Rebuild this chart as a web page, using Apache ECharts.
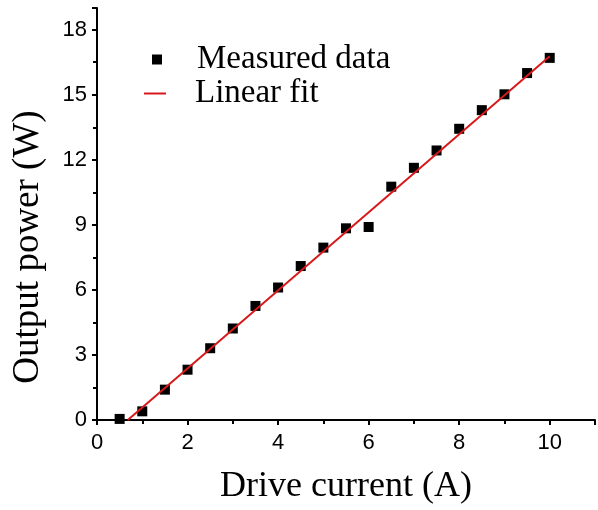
<!DOCTYPE html>
<html>
<head>
<meta charset="utf-8">
<script src="https://cdn.jsdelivr.net/npm/echarts@6/dist/echarts.min.js"></script>
<style>
  html, body { margin: 0; padding: 0; background: #fff; }
  #chart { width: 598px; height: 510px; }
</style>
</head>
<body>
<div id="chart"></div>
<script>
// Drive current (A) and measured output power (W)
const driveCurrent = [0.5, 1.0, 1.5, 2.0, 2.5, 3.0, 3.5, 4.0, 4.5, 5.0, 5.5, 6.0, 6.5, 7.0, 7.5, 8.0, 8.5, 9.0, 9.5, 10.0];
const outputPower  = [0.05, 0.40, 1.40, 2.32, 3.31, 4.22, 5.26, 6.11, 7.10, 7.95, 8.84, 8.90, 10.76, 11.63, 12.43, 13.43, 14.29, 15.02, 16.00, 16.70];

// Linear fit endpoints (clipped at zero power)
const fitCurrent = [0.68, 10.0];
const fitPower   = [0.0, 16.78];

const xTicks = [0, 2, 4, 6, 8, 10];
const yTicks = [0, 3, 6, 9, 12, 15, 18];

const serif = '"Liberation Serif", "Times New Roman", serif';
const sans = '"Liberation Sans", Arial, sans-serif';

const chart = echarts.init(document.getElementById('chart'), null, { renderer: 'canvas' });

const axisCommon = {
  axisLine: { show: true, onZero: false, lineStyle: { color: '#000', width: 2 } },
  axisTick: { show: true, inside: false, length: 5, lineStyle: { color: '#000', width: 2 } },
  minorTick: { show: true, splitNumber: 2, length: 4, lineStyle: { color: '#000', width: 2 } },
  splitLine: { show: false },
  minorSplitLine: { show: false }
};

chart.setOption({
  animation: false,
  backgroundColor: '#fff',
  grid: { left: 97, right: -7, top: 8, bottom: 89, containLabel: false },
  xAxis: Object.assign({
    type: 'value',
    min: 0,
    max: 11,
    interval: 2,
    name: 'Drive current (A)',
    nameLocation: 'middle',
    nameGap: 49,
    nameTextStyle: { fontFamily: serif, fontSize: 36, color: '#000' },
    axisLabel: {
      fontFamily: sans, fontSize: 22, color: '#000', margin: 12,
      formatter: v => (xTicks.includes(v) ? String(v) : '')
    }
  }, axisCommon),
  yAxis: Object.assign({
    type: 'value',
    min: 0,
    max: 19,
    interval: 3,
    name: 'Output power (W)',
    nameLocation: 'middle',
    nameGap: 50,
    nameRotate: 90,
    nameTextStyle: { fontFamily: serif, fontSize: 37, color: '#000', padding: [0, 66, 0, 0] },
    axisLabel: {
      fontFamily: sans, fontSize: 22, color: '#000', margin: 10,
      formatter: v => (yTicks.includes(v) ? String(v) : '')
    }
  }, axisCommon),
  legend: [
    {
      data: ['Measured data'],
      left: 152, top: 43,
      padding: 0,
      orient: 'vertical',
      itemWidth: 10, itemHeight: 10,
      textStyle: { fontFamily: serif, fontSize: 33, color: '#000', padding: [0, 0, 0, 30] },
      selectedMode: false
    },
    {
      data: [{ name: 'Linear fit', icon: 'rect' }],
      left: 144, top: 77,
      padding: 0,
      orient: 'vertical',
      itemWidth: 22, itemHeight: 2,
      itemStyle: { color: '#d7191c' },
      textStyle: { fontFamily: serif, fontSize: 33, color: '#000', padding: [0, 0, 0, 24] },
      selectedMode: false
    }
  ],
  series: [
    {
      name: 'Measured data',
      type: 'scatter',
      symbol: 'rect',
      symbolSize: 10,
      itemStyle: { color: '#000', opacity: 1 },
      data: driveCurrent.map((x, i) => [x, outputPower[i]]),
      z: 2
    },
    {
      name: 'Linear fit',
      type: 'line',
      symbol: 'none',
      lineStyle: { color: '#d7191c', width: 2 },
      itemStyle: { color: '#d7191c' },
      data: fitCurrent.map((x, i) => [x, fitPower[i]]),
      z: 3
    }
  ]
});
</script>
</body>
</html>
